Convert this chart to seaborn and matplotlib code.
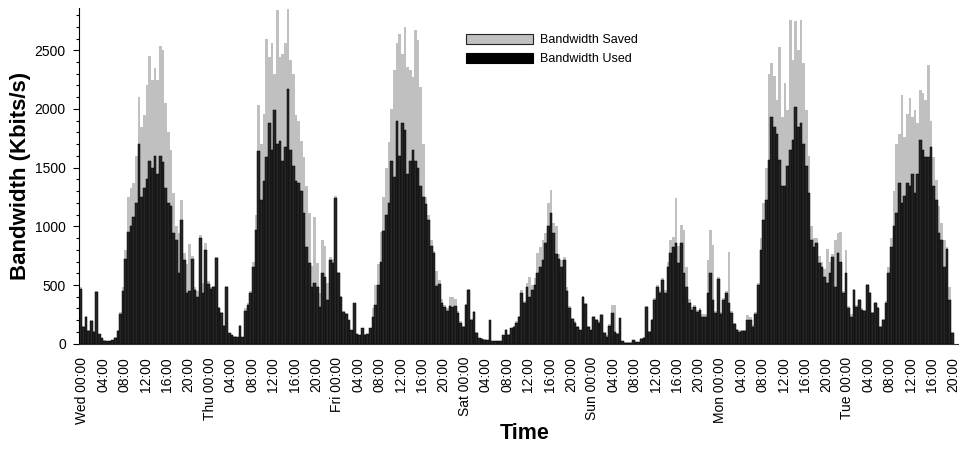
import numpy as np
import pandas as pd
import matplotlib
matplotlib.use("Agg")
import matplotlib.pyplot as plt
from matplotlib.patches import Patch
from matplotlib.ticker import MultipleLocator
import seaborn as sns

# ---- data: half-hour samples (Kbits/s) ----
sample_start = -0.5   # hours relative to Wed 00:00
sample_step = 0.5     # hours

wed_used = [470, 140, 230, 110, 190, 100, 440, 80, 45, 25, 20, 20, 30, 50, 110, 250, 450,
            720, 950, 1000, 1080, 1200, 1700, 1250, 1330, 1400, 1560, 1500, 1600, 1450, 1600,
            1550, 1330, 1200, 1170, 940, 880, 600, 1050, 710, 430, 450, 720, 460, 400, 900,
            430, 800, 510]
wed_total = [480, 150, 240, 115, 200, 110, 450, 85, 50, 30, 22, 22, 35, 55, 115, 270, 480,
             800, 1250, 1330, 1370, 1600, 2100, 1850, 1950, 2200, 2450, 2250, 2350, 2250, 2540,
             2500, 2050, 1800, 1650, 1280, 1000, 940, 1220, 770, 680, 850, 750, 480, 450, 930,
             520, 855, 530]

thu_used = [470, 480, 730, 300, 260, 150, 480, 90, 70, 60, 55, 150, 55, 280, 330, 430, 650,
            970, 1640, 1220, 1390, 1590, 1880, 1650, 1990, 1700, 1730, 1560, 1680, 2170, 1650,
            1510, 1390, 1365, 1300, 1110, 825, 685, 485, 515, 485, 315, 600, 570, 370, 710,
            690, 1240]
thu_total = [480, 490, 740, 310, 270, 160, 490, 95, 75, 65, 60, 160, 60, 300, 350, 450, 700,
             1100, 2030, 1700, 1960, 2600, 2440, 2560, 2300, 2840, 2440, 2470, 2560, 2850, 2420,
             2300, 1950, 1900, 1730, 1590, 1340, 1110, 660, 1080, 690, 430, 880, 830, 520, 740,
             720, 1260]

fri_used = [600, 400, 270, 250, 200, 115, 345, 80, 70, 130, 75, 80, 130, 230, 330, 500, 700,
            960, 1100, 1195, 1560, 1420, 1900, 1600, 1880, 1820, 1450, 1560, 1650, 1560, 1500,
            1340, 1250, 1190, 1050, 830, 770, 490, 510, 350, 310, 280, 320, 310, 320, 260,
            180, 145]
fri_total = [610, 410, 280, 260, 205, 120, 350, 85, 75, 135, 80, 85, 135, 300, 500, 680, 950,
             1250, 1500, 1720, 2000, 2330, 2560, 2640, 2470, 2700, 2360, 2330, 2270, 2670, 2590,
             2190, 1700, 1250, 1100, 880, 790, 620, 540, 380, 330, 300, 400, 400, 380, 280,
             190, 150]

sat_used = [330, 460, 200, 270, 90, 45, 40, 35, 30, 200, 25, 20, 20, 25, 70, 120, 75, 130,
            145, 180, 230, 430, 345, 485, 400, 460, 500, 600, 655, 710, 855, 1000, 1110, 940,
            760, 720, 655, 710, 450, 300, 210, 180, 145, 115, 400, 340, 145, 115]
sat_total = [340, 465, 210, 280, 100, 50, 45, 40, 32, 205, 27, 22, 22, 27, 75, 125, 80, 135,
             150, 190, 240, 460, 360, 520, 570, 500, 560, 770, 825, 880, 940, 1195, 1310, 1025,
             1000, 760, 710, 740, 480, 320, 220, 190, 150, 120, 410, 350, 150, 120]

sun_used = [230, 200, 180, 245, 90, 60, 150, 260, 100, 80, 215, 20, 10, 10, 10, 30, 15, 15,
            40, 50, 315, 100, 200, 370, 485, 430, 540, 430, 655, 770, 825, 855, 685, 855, 600,
            485, 345, 285, 315, 270, 285, 230, 230, 430, 600, 370, 260, 555]
sun_total = [240, 210, 190, 250, 100, 70, 170, 330, 330, 90, 220, 22, 12, 12, 12, 32, 17, 17,
             45, 55, 320, 110, 210, 390, 500, 450, 560, 460, 700, 880, 910, 1240, 830, 1010,
             970, 655, 380, 310, 330, 285, 300, 250, 250, 710, 970, 840, 280, 570]

mon_used = [250, 370, 430, 345, 260, 170, 115, 100, 105, 110, 200, 200, 145, 250, 500, 800,
            1050, 1225, 1565, 1935, 1850, 1790, 1565, 1340, 1340, 1510, 1650, 1735, 2020, 1850,
            1880, 1700, 1510, 1280, 880, 825, 855, 685, 655, 570, 515, 600, 740, 485, 770, 700,
            430, 600]
mon_total = [270, 390, 450, 785, 280, 180, 125, 115, 115, 120, 245, 230, 160, 270, 520, 900,
             1195, 1500, 2300, 2390, 2280, 2075, 2530, 1935, 2220, 1990, 2760, 2415, 2745, 2500,
             2760, 2390, 1990, 1600, 1000, 900, 900, 750, 700, 640, 810, 700, 760, 880, 940, 955,
             450, 800]

tue_used = [300, 230, 460, 315, 370, 285, 280, 500, 430, 260, 345, 300, 145, 200, 345, 600,
            825, 1000, 1110, 1365, 1200, 1255, 1365, 1340, 1450, 1280, 1450, 1735, 1650, 1590,
            1590, 1680, 1340, 1225, 940, 880, 655, 810, 370, 90]
tue_total = [320, 250, 470, 330, 380, 300, 290, 510, 440, 270, 355, 310, 155, 210, 360, 650,
             900, 1300, 1700, 1790, 2120, 1760, 1960, 2090, 1935, 1990, 1880, 2165, 2140, 2075,
             2375, 1900, 1590, 1395, 1170, 1025, 880, 820, 485, 100]

tick_hours = [0, 4, 8, 12, 16, 20, 24, 28, 32, 36, 40, 44, 48, 52, 56, 60, 64, 68, 72, 76, 80,
              84, 88, 92, 96, 100, 104, 108, 112, 116, 120, 124, 128, 132, 136, 140, 144, 148,
              152, 156, 160, 164]
tick_labels = ["Wed 00:00", "04:00", "08:00", "12:00", "16:00", "20:00",
               "Thu 00:00", "04:00", "08:00", "12:00", "16:00", "20:00",
               "Fri 00:00", "04:00", "08:00", "12:00", "16:00", "20:00",
               "Sat 00:00", "04:00", "08:00", "12:00", "16:00", "20:00",
               "Sun 00:00", "04:00", "08:00", "12:00", "16:00", "20:00",
               "Mon 00:00", "04:00", "08:00", "12:00", "16:00", "20:00",
               "Tue 00:00", "04:00", "08:00", "12:00", "16:00", "20:00"]

series_labels = ["Bandwidth Saved", "Bandwidth Used"]

# ---- assemble ----
used = np.array(wed_used + thu_used + fri_used + sat_used + sun_used + mon_used + tue_used, float)
total = np.array(wed_total + thu_total + fri_total + sat_total + sun_total + mon_total + tue_total, float)
n = len(used)
starts = sample_start + sample_step * np.arange(n)
df = pd.DataFrame({"t": starts + sample_step / 2, "used": used, "total": total})
brange = (sample_start, sample_start + sample_step * n)

# ---- style ----
sns.set_style("ticks")
plt.rcParams["font.family"] = ["Liberation Sans", "DejaVu Sans"]
plt.rcParams["text.color"] = "black"
plt.rcParams["axes.labelcolor"] = "black"
plt.rcParams["xtick.color"] = "black"
plt.rcParams["ytick.color"] = "black"

GRAY = "#c0c0c0"
DARK = "#262626"

fig = plt.figure(figsize=(9.59, 4.5), dpi=100)
ax = fig.add_axes([79 / 959, 106.3 / 450, 880 / 959, 335.7 / 450])

sns.histplot(data=df, x="t", weights="total", binwidth=sample_step, binrange=brange,
             color=GRAY, alpha=1, linewidth=0, edgecolor=GRAY, ax=ax)
sns.histplot(data=df, x="t", weights="used", binwidth=sample_step, binrange=brange,
             color=DARK, alpha=1, linewidth=0.35, edgecolor="black", ax=ax)

ax.set_xlim(-0.56, 165.0)
ax.set_ylim(0, 2860)

ax.set_xticks(tick_hours)
ax.set_xticklabels(tick_labels, rotation=90, fontsize=10, color="black")
ax.tick_params(axis="x", length=0, pad=9.5, colors="black")

ax.yaxis.set_major_locator(MultipleLocator(500))
ax.yaxis.set_minor_locator(MultipleLocator(100))
ax.tick_params(axis="y", which="major", length=4, width=0.8, labelsize=10, pad=5.5,
               direction="out", colors="black")
ax.tick_params(axis="y", which="minor", length=2, width=0.8, direction="out", colors="black")

for s in ["top", "right"]:
    ax.spines[s].set_visible(False)
ax.spines["left"].set_color("black")
ax.spines["left"].set_linewidth(0.8)
ax.spines["bottom"].set_color("#333333")
ax.spines["bottom"].set_linewidth(0.8)

ax.set_ylabel("Bandwidth (Kbits/s)", fontsize=16, fontweight="bold", color="black")
ax.yaxis.set_label_coords(-0.0545, 0.5)
ax.set_xlabel("Time", fontsize=15.5, fontweight="bold", color="black")
ax.xaxis.set_label_coords(0.507, -0.236)

handles = [Patch(facecolor=GRAY, edgecolor="#222222", linewidth=0.8),
           Patch(facecolor="black", edgecolor="black", linewidth=0.8)]
leg = ax.legend(handles, series_labels, loc="upper left", bbox_to_anchor=(0.4398, 0.9226),
                frameon=False, fontsize=9, handlelength=5.36, handleheight=0.88,
                handletextpad=0.56, labelspacing=0.5, borderpad=0, borderaxespad=0)
for txt in leg.get_texts():
    txt.set_color("black")

fig.savefig("out.png", dpi=100)
